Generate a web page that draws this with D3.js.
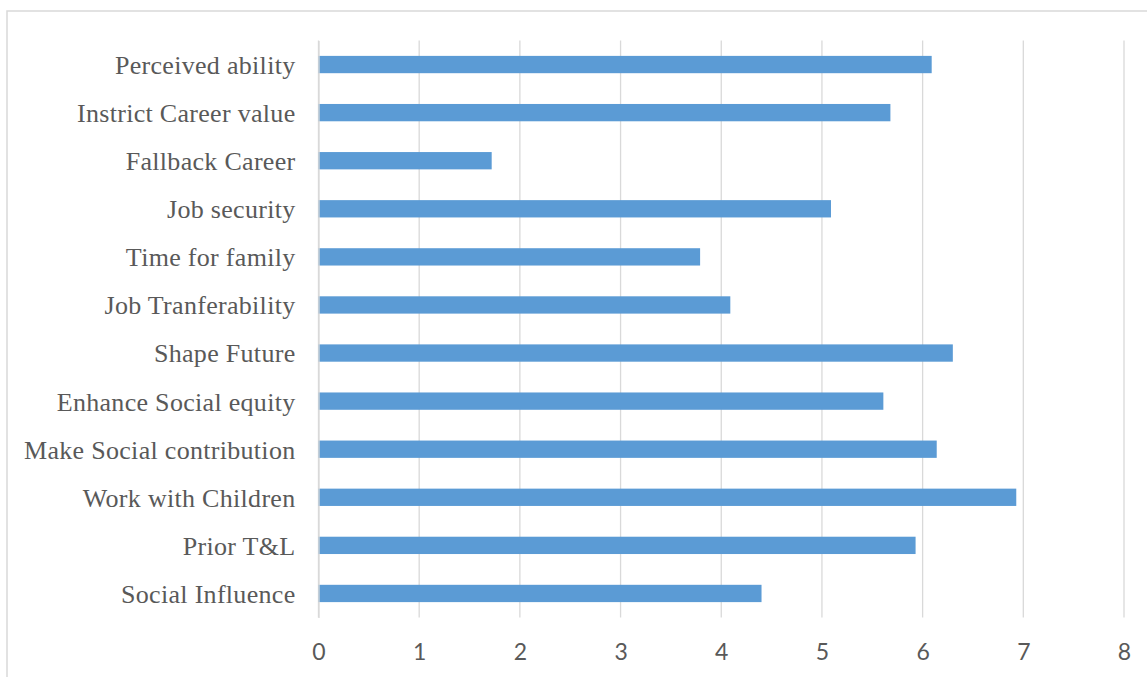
<!DOCTYPE html>
<html>
  <head>
    <title>Motivation bar chart</title>
    <meta charset="utf-8" />
    <style>
      body { margin: 0; background: #fff; }
    </style>
  </head>
  <body>
    <div id="chart"></div>
    <script src="https://d3js.org/d3.v7.min.js"></script>
    <script type="text/javascript">
        const categories = [
            "Perceived ability",
            "Instrict Career value",
            "Fallback Career",
            "Job security",
            "Time for family",
            "Job Tranferability",
            "Shape Future",
            "Enhance Social equity",
            "Make Social contribution",
            "Work with Children",
            "Prior T&L",
            "Social Influence"
        ];
        const values = [6.09, 5.68, 1.72, 5.09, 3.79, 4.09, 6.30, 5.61, 6.14, 6.93, 5.93, 4.40];
        const xTicks = [0, 1, 2, 3, 4, 5, 6, 7, 8];

        const width = 1147;
        const height = 677;
        const margin = ({top: 40.5, right: 23, bottom: 59.5, left: 318.5});
        const grey = "#d9d9d9";
        const textColor = "#595959";

        const data = categories.map((name, i) => ({name, value: values[i]}));

        const x = d3.scaleLinear()
            .domain([0, 8])
            .range([margin.left, width - margin.right]);

        const y = d3.scaleBand()
            .domain(categories)
            .range([margin.top, height - margin.bottom])
            .paddingInner(0.64)
            .paddingOuter(0.32);

        const svg = d3.select("#chart")
            .append("svg")
            .attr("width", width)
            .attr("height", height);

        // chart area frame (runs off the right and bottom edges)
        svg.append("rect")
            .attr("x", 7)
            .attr("y", 11)
            .attr("width", width + 20)
            .attr("height", height + 20)
            .attr("fill", "#fff")
            .attr("stroke", grey)
            .attr("stroke-width", 1.5);

        // vertical gridlines
        svg.append("g")
            .attr("stroke", grey)
            .attr("stroke-width", 1.3)
            .selectAll("line")
            .data(xTicks)
            .join("line")
            .attr("x1", d => x(d))
            .attr("x2", d => x(d))
            .attr("y1", margin.top)
            .attr("y2", height - margin.bottom);

        // x axis labels
        const xAxis = g => g
            .attr("transform", `translate(0,${height - margin.bottom})`)
            .call(d3.axisBottom(x).tickValues(xTicks).tickSize(0).tickPadding(26))
            .call(g => g.select(".domain").remove())
            .call(g => g.selectAll("text")
                .attr("fill", textColor)
                .attr("font-family", "Lato, 'Open Sans', sans-serif")
                .attr("font-size", 23));

        svg.append("g").call(xAxis);

        // bars
        svg.append("g")
            .attr("fill", "#5b9bd5")
            .selectAll("rect")
            .data(data)
            .join("rect")
            .attr("x", x(0))
            .attr("y", d => y(d.name))
            .attr("width", d => x(d.value) - x(0))
            .attr("height", y.bandwidth());

        // category labels
        const yAxis = g => g
            .attr("transform", `translate(${margin.left},0)`)
            .call(d3.axisLeft(y).tickSize(0).tickPadding(23))
            .call(g => g.select(".domain")
                .attr("stroke", grey)
                .attr("stroke-width", 1.3))
            .call(g => g.selectAll("text")
                .attr("fill", textColor)
                .attr("font-family", "'Times New Roman', 'Liberation Serif', serif")
                .attr("font-size", 26)
                .attr("letter-spacing", 0.3)
                .attr("dy", "0.36em"));

        svg.append("g").call(yAxis);
    </script>
  </body>
</html>
